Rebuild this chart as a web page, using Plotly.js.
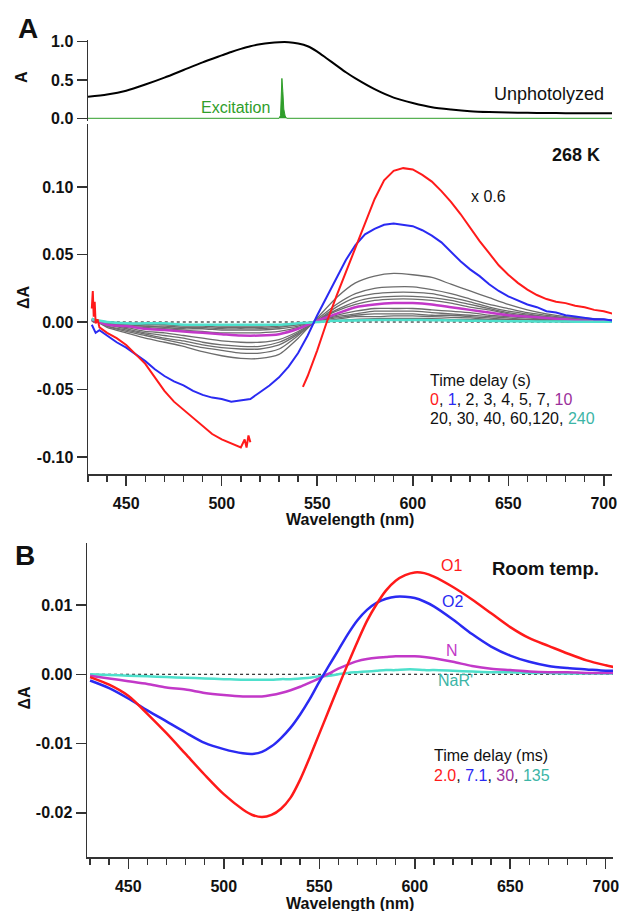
<!DOCTYPE html>
<html><head><meta charset="utf-8">
<script src="https://cdn.plot.ly/plotly-3.0.1.min.js"></script>
<style>html,body{margin:0;padding:0;background:#fff}#plot{width:619px;height:911px}</style>
</head><body><div id="plot"></div>
<script>
// ---------- Panel A, top: absorbance of unphotolyzed sample ----------
const absWl  = [430,440,450,460,470,480,490,500,505,510,515,520,525,530,535,540,545,550,555,560,565,570,580,590,600,610,620,630,640,650,660,670,680,690,700,705];
const absVal = [0.28,0.31,0.36,0.44,0.53,0.63,0.73,0.82,0.865,0.905,0.94,0.965,0.983,0.993,0.993,0.975,0.94,0.87,0.78,0.69,0.60,0.52,0.38,0.27,0.20,0.145,0.115,0.093,0.082,0.076,0.072,0.069,0.067,0.066,0.065,0.065];
const excWl  = [430,530,530.8,531.5,532,532.5,533.2,534,705];
const excVal = [0,0,0.04,0.52,0.35,0.12,0.03,0,0];

// ---------- Panel A, main: 268 K difference spectra ----------
const red0Wl  = [432,432.5,433,433.5,434,435,436,438,440,445,450,455,460,465,470,475,480,485,490,495,500,505,508,510,512,513,514,515,528,
                 542.5,545,550,555,560,565,570,575,580,585,590,595,600,605,610,615,620,625,630,635,640,645,650,655,660,665,670,675,680,685,690,695,700,705];
const red0Val = [0.010,0.023,0.004,0.015,-0.001,0.002,-0.004,-0.006,-0.008,-0.012,-0.017,-0.024,-0.031,-0.041,-0.051,-0.059,-0.065,-0.071,-0.077,-0.083,-0.087,-0.090,-0.092,-0.093,-0.087,-0.093,-0.084,-0.089,null,
                 -0.048,-0.040,-0.021,0.000,0.019,0.037,0.055,0.074,0.091,0.105,0.112,0.114,0.113,0.109,0.104,0.097,0.089,0.080,0.070,0.060,0.051,0.042,0.035,0.029,0.024,0.020,0.017,0.015,0.014,0.012,0.011,0.009,0.008,0.006];
const blue1Wl  = [432,434,436,440,445,450,455,460,465,470,475,480,485,490,495,500,505,510,515,520,525,530,535,540,545,550,555,560,565,570,575,580,585,590,595,600,605,610,615,620,625,630,635,640,645,650,655,660,665,670,675,680,685,690,695,700,705];
const blue1Val = [-0.002,-0.008,-0.006,-0.010,-0.015,-0.019,-0.024,-0.029,-0.035,-0.040,-0.044,-0.047,-0.051,-0.054,-0.056,-0.057,-0.059,-0.058,-0.057,-0.052,-0.047,-0.041,-0.033,-0.023,-0.010,0.005,0.019,0.033,0.046,0.057,0.065,0.069,0.072,0.073,0.072,0.071,0.068,0.064,0.059,0.052,0.045,0.039,0.034,0.028,0.023,0.019,0.016,0.013,0.011,0.008,0.007,0.005,0.004,0.003,0.002,0.002,0.001];

const grayWl = [432,440,450,460,470,480,490,500,510,520,530,540,550,560,570,580,590,600,610,620,630,640,650,660,670,680,690,700,705];
const gray2s   = [0.003,-0.004,-0.008,-0.012,-0.015,-0.018,-0.022,-0.025,-0.027,-0.027,-0.024,-0.012,0.003,0.018,0.029,0.034,0.036,0.035,0.033,0.028,0.023,0.018,0.013,0.009,0.006,0.004,0.003,0.002,0.0015];
const gray3s   = [0.002,-0.003,-0.007,-0.010,-0.013,-0.016,-0.019,-0.021,-0.023,-0.023,-0.020,-0.010,0.002,0.013,0.021,0.025,0.026,0.026,0.024,0.021,0.017,0.013,0.010,0.007,0.005,0.003,0.002,0.002,0.001];
const gray4s   = [0.002,-0.003,-0.006,-0.009,-0.012,-0.014,-0.017,-0.019,-0.020,-0.020,-0.017,-0.009,0.001,0.011,0.018,0.021,0.022,0.022,0.021,0.018,0.015,0.011,0.008,0.006,0.004,0.003,0.002,0.001,0.001];
const gray5s   = [0.002,-0.002,-0.005,-0.008,-0.010,-0.012,-0.015,-0.017,-0.018,-0.018,-0.015,-0.008,0.001,0.009,0.015,0.018,0.019,0.019,0.018,0.016,0.013,0.010,0.007,0.005,0.004,0.002,0.002,0.001,0.001];
const gray7s   = [0.001,-0.002,-0.004,-0.007,-0.008,-0.010,-0.012,-0.014,-0.015,-0.015,-0.013,-0.007,0.001,0.008,0.013,0.016,0.017,0.017,0.016,0.014,0.011,0.009,0.006,0.004,0.003,0.002,0.001,0.001,0.001];
const purple10s= [0.002,-0.002,-0.003,-0.005,-0.006,-0.007,-0.008,-0.009,-0.010,-0.010,-0.009,-0.005,0.001,0.006,0.011,0.013,0.014,0.014,0.013,0.011,0.009,0.007,0.005,0.004,0.003,0.002,0.001,0.001,0.001];
const gray20s  = [0.001,-0.001,-0.003,-0.004,-0.005,-0.006,-0.007,-0.008,-0.008,-0.008,-0.007,-0.004,0.001,0.005,0.008,0.010,0.010,0.010,0.009,0.008,0.007,0.005,0.004,0.003,0.002,0.001,0.001,0.001,0.000];
const gray30s  = [0.001,-0.001,-0.002,-0.003,-0.004,-0.005,-0.005,-0.006,-0.006,-0.006,-0.005,-0.003,0.001,0.004,0.006,0.008,0.008,0.008,0.007,0.006,0.005,0.004,0.003,0.002,0.002,0.001,0.001,0.000,0.000];
const gray40s  = [0.001,-0.001,-0.002,-0.003,-0.003,-0.004,-0.004,-0.005,-0.005,-0.005,-0.004,-0.002,0.001,0.003,0.005,0.006,0.006,0.006,0.005,0.005,0.004,0.003,0.002,0.002,0.001,0.001,0.000,0.000,0.000];
const gray60s  = [0.001,0.000,-0.001,-0.002,-0.002,-0.003,-0.003,-0.004,-0.004,-0.004,-0.003,-0.002,0.000,0.002,0.004,0.004,0.0045,0.0045,0.004,0.0035,0.003,0.002,0.002,0.001,0.001,0.001,0.000,0.000,0.000];
const gray120s = [0.001,0.000,-0.001,-0.001,-0.002,-0.002,-0.002,-0.003,-0.003,-0.003,-0.002,-0.001,0.000,0.001,0.002,0.0025,0.0027,0.0027,0.0025,0.002,0.0018,0.0015,0.001,0.001,0.001,0.000,0.000,0.000,0.000];
const cyan240s = [0.002,0.000,-0.001,-0.001,-0.001,-0.002,-0.002,-0.002,-0.002,-0.002,-0.002,-0.001,0.000,0.001,0.0012,0.0015,0.0015,0.0015,0.0013,0.0012,0.001,0.0008,0.0006,0.0005,0.0004,0.0003,0.0002,0.0002,0.0002];
const graySeries = [gray2s,gray3s,gray4s,gray5s,gray7s,gray20s,gray30s,gray40s,gray60s,gray120s];

// ---------- Panel B: room temperature ----------
const bWl = [430,440,450,460,470,480,490,500,510,515,520,525,530,535,540,545,550,555,560,565,570,575,580,585,590,595,600,605,610,620,630,640,650,660,670,680,690,700,705];
const bO1   = [-0.0004,-0.0015,-0.0031,-0.0057,-0.0085,-0.0115,-0.0145,-0.0173,-0.0195,-0.0203,-0.0206,-0.0203,-0.0194,-0.0178,-0.0152,-0.0120,-0.0086,-0.0052,-0.0018,0.0015,0.0047,0.0077,0.0101,0.0121,0.0135,0.0143,0.0147,0.0146,0.0141,0.0126,0.0108,0.0088,0.0068,0.0052,0.0041,0.0030,0.0020,0.0013,0.0010];
const bO2   = [-0.0009,-0.0020,-0.0035,-0.0052,-0.0068,-0.0084,-0.0099,-0.0108,-0.0114,-0.0115,-0.0112,-0.0104,-0.0092,-0.0077,-0.0058,-0.0036,-0.0011,0.0012,0.0035,0.0058,0.0078,0.0093,0.0103,0.0109,0.0112,0.0112,0.0110,0.0105,0.0098,0.0079,0.0058,0.0040,0.0027,0.0018,0.0012,0.0009,0.0007,0.0005,0.0005];
const bN    = [-0.0002,-0.0006,-0.0010,-0.0014,-0.0019,-0.0022,-0.0027,-0.0030,-0.0032,-0.0032,-0.0032,-0.0030,-0.0027,-0.0023,-0.0018,-0.0012,-0.0006,0.0001,0.0008,0.0014,0.0019,0.0022,0.0024,0.0025,0.0026,0.0026,0.0026,0.0025,0.0023,0.0018,0.0012,0.0008,0.0006,0.0004,0.0003,0.0003,0.0002,0.0002,0.0002];
const bNaR  = [0.0000,-0.0001,-0.0002,-0.0003,-0.0004,-0.0005,-0.0006,-0.0007,-0.0008,-0.0008,-0.0008,-0.0008,-0.0007,-0.0007,-0.0006,-0.0005,-0.0003,-0.0002,0.0000,0.0002,0.0003,0.0004,0.0005,0.0006,0.0006,0.0007,0.0007,0.0006,0.0006,0.0005,0.0004,0.0003,0.0003,0.0002,0.0002,0.0001,0.0001,0.0001,0.0001];

// ---------- tick labels ----------
const xTickVals = [450,500,550,600,650,700];
const xTickText = ['450','500','550','600','650','700'];
const absTickVals = [0,0.5,1.0];
const absTickText = ['0.0','0.5','1.0'];
const aTickVals = [-0.10,-0.05,0,0.05,0.10];
const aTickText = ['-0.10','-0.05','0.00','0.05','0.10'];
const bTickVals = [-0.02,-0.01,0,0.01];
const bTickText = ['-0.02','-0.01','0.00','0.01'];

// ---------- styling ----------
const W = 619, H = 911;
const px = x => x / W, py = y => 1 - y / H;
const FONT = 'Liberation Sans, Arial, Helvetica, sans-serif';
const C = {red:'#ff1a1a', blue:'#2a2af2', purple:'#c238c8', cyan:'#4ee0cc', gray:'#6c6c6c',
           green:'#2f9e2a', purpleTxt:'#9b2f9b', tealTxt:'#3cb5a6'};
const axisBase = {showline:true, linecolor:'#333', linewidth:1.5, ticks:'outside', tickcolor:'#333',
  tickwidth:1.5, ticklen:10, showgrid:false, zeroline:false,
  tickfont:{family:FONT, size:16, color:'#111', weight:'bold'}};
const xAxisExtra = {ticklabeloverflow:'allow', ticklabelstandoff:4,
  minor:{tick0:430, dtick:10, ticks:'outside', ticklen:6, tickwidth:1.5, tickcolor:'#333'}};

const traces = [];
traces.push({x:excWl, y:excVal, xaxis:'x', yaxis:'y', mode:'lines', fill:'tozeroy', fillcolor:C.green,
  line:{color:C.green, width:1}});
traces.push({x:absWl, y:absVal, xaxis:'x', yaxis:'y', mode:'lines', line:{color:'#000', width:2, shape:'spline', smoothing:0.7}});

graySeries.forEach(s => traces.push({x:grayWl, y:s, xaxis:'x2', yaxis:'y2', mode:'lines',
  line:{color:C.gray, width:1.3, shape:'spline', smoothing:0.6}}));
traces.push({x:grayWl, y:purple10s, xaxis:'x2', yaxis:'y2', mode:'lines', line:{color:C.purple, width:2.5, shape:'spline', smoothing:0.6}});
traces.push({x:grayWl, y:cyan240s, xaxis:'x2', yaxis:'y2', mode:'lines', line:{color:C.cyan, width:2.5, shape:'spline', smoothing:0.6}});
traces.push({x:blue1Wl, y:blue1Val, xaxis:'x2', yaxis:'y2', mode:'lines', line:{color:C.blue, width:2}});
traces.push({x:red0Wl, y:red0Val, xaxis:'x2', yaxis:'y2', mode:'lines', connectgaps:false, line:{color:C.red, width:2}});

[[bNaR,C.cyan],[bN,C.purple],[bO2,C.blue],[bO1,C.red]].forEach(([s,c]) =>
  traces.push({x:bWl, y:s, xaxis:'x3', yaxis:'y3', mode:'lines', line:{color:c, width:2.5, shape:'spline', smoothing:0.8}}));

function ann(text, x, y, opts) {
  return Object.assign({text, x:px(x), y:py(y), xref:'paper', yref:'paper', showarrow:false,
    xanchor:'center', yanchor:'middle', font:{family:FONT, size:16, color:'#111'}}, opts || {});
}
const bold = (s) => ({family:FONT, size:s, color:'#111', weight:'bold'});
const annotations = [
  ann('A', 27.5, 28.5, {font:bold(28)}),
  ann('B', 25, 555, {font:bold(28)}),
  ann('A', 21, 77, {font:bold(16), textangle:-90}),
  ann('ΔA', 23, 297, {font:bold(16), textangle:-90}),
  ann('ΔA', 24, 697.5, {font:bold(16), textangle:-90}),
  ann('Wavelength (nm)', 350, 519, {font:bold(16)}),
  ann('Wavelength (nm)', 350, 903, {font:bold(16)}),
  ann('Excitation', 272, 107.5, {xanchor:'right', font:{family:FONT, size:16, color:C.green}}),
  ann('Unphotolyzed', 606, 94.5, {xanchor:'right', font:{family:FONT, size:18, color:'#111'}}),
  ann('268 K', 602, 155, {xanchor:'right', font:bold(18)}),
  ann('x 0.6', 469, 197, {xanchor:'left'}),
  ann('Time delay (s)', 428, 380.5, {xanchor:'left'}),
  ann('<span style="color:'+C.red+'">0</span>, <span style="color:'+C.blue+'">1</span>, 2, 3, 4, 5, 7, <span style="color:'+C.purpleTxt+'">10</span>', 428, 400, {xanchor:'left', align:'left'}),
  ann('20, 30, 40, 60,120, <span style="color:'+C.tealTxt+'">240</span>', 428, 419, {xanchor:'left', align:'left'}),
  ann('O1', 451.7, 565, {font:{family:FONT, size:16, color:C.red}}),
  ann('Room temp.', 600.7, 568, {xanchor:'right', font:bold(18.5)}),
  ann('O2', 452, 601.7, {font:{family:FONT, size:16, color:C.blue}}),
  ann('N', 452, 650, {font:{family:FONT, size:16, color:C.purple}}),
  ann("NaR'", 455, 680, {font:{family:FONT, size:16, color:C.tealTxt}}),
  ann('Time delay (ms)', 431.7, 755.5, {xanchor:'left'}),
  ann('<span style="color:'+C.red+'">2.0</span>, <span style="color:'+C.blue+'">7.1</span>, <span style="color:'+C.purpleTxt+'">30</span>, <span style="color:'+C.tealTxt+'">135</span>', 431.7, 775, {xanchor:'left', align:'left'})
];

const shapes = [
  {type:'line', xref:'x2', yref:'y2', x0:432.5, x1:704.3, y0:0, y1:0, layer:'below', line:{color:'#000', width:1, dash:'dot'}},
  {type:'line', xref:'x3', yref:'y3', x0:430, x1:703.8, y0:0, y1:0, layer:'below', line:{color:'#000', width:1, dash:'dot'}}
];

const layout = {
  width:W, height:H, margin:{l:0, r:0, t:0, b:0}, showlegend:false,
  paper_bgcolor:'#fff', plot_bgcolor:'rgba(0,0,0,0)',
  xaxis: {domain:[px(88), px(612)], range:[430, 704.3], visible:false, anchor:'y'},
  yaxis: Object.assign({}, axisBase, {domain:[py(120.6), py(40)], range:[-0.03, 1.021], anchor:'x',
    tickmode:'array', tickvals:absTickVals, ticktext:absTickText}),
  xaxis2: Object.assign({}, axisBase, xAxisExtra, {domain:[px(88), px(612)], range:[430, 704.3], anchor:'y2',
    tickmode:'array', tickvals:xTickVals, ticktext:xTickText}),
  yaxis2: Object.assign({}, axisBase, {domain:[py(474), py(124)], range:[-0.1126, 0.1467], anchor:'x2',
    tickmode:'array', tickvals:aTickVals, ticktext:aTickText}),
  xaxis3: Object.assign({}, axisBase, xAxisExtra, {domain:[px(87), px(613)], range:[428.4, 703.8], anchor:'y3',
    tickmode:'array', tickvals:xTickVals, ticktext:xTickText}),
  yaxis3: Object.assign({}, axisBase, {domain:[py(857.3), py(543.3)], range:[-0.02641, 0.0189], anchor:'x3',
    tickmode:'array', tickvals:bTickVals, ticktext:bTickText}),
  annotations, shapes
};

Plotly.newPlot('plot', traces, layout, {displayModeBar:false, staticPlot:true});
</script></body></html>
